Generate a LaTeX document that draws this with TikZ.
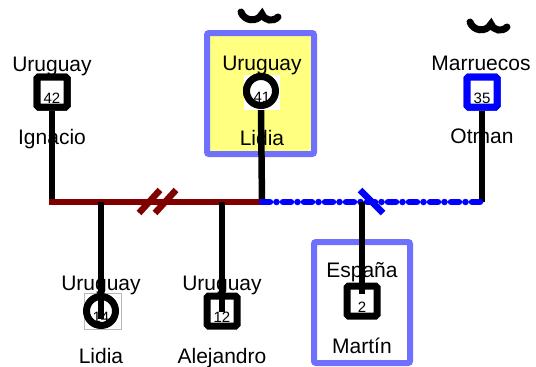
\documentclass[tikz,border=0pt]{standalone}
\usepackage{fontspec}
\setmainfont{Liberation Sans}
\definecolor{boxblue}{RGB}{112,112,255}
\definecolor{yellowfill}{RGB}{255,255,128}
\definecolor{barred}{RGB}{128,0,0}
\definecolor{pureblue}{RGB}{0,0,255}
\definecolor{thingray}{RGB}{185,185,185}
\begin{document}
\begin{tikzpicture}[x=1pt,y=-1pt,
  lbl/.style={font=\fontsize{21}{24}\selectfont, inner sep=0pt, anchor=base},
  num/.style={font=\fontsize{15}{17}\selectfont, inner sep=0pt, anchor=base},
  sqperson/.style={draw, line width=7pt, fill=white, minimum size=30pt, inner sep=0pt, rounded corners=1.5pt},
  circperson/.style={circle, draw, line width=7pt, fill=white, minimum size=29pt, inner sep=0pt},
  link/.style={line width=6.5pt},
  groupbox/.style={draw=boxblue, line width=6pt, rounded corners=2pt},
  squig/.style={line width=7pt, line cap=round},
  slash/.style={line width=6.5pt}
]
\useasboundingbox (0,0) rectangle (536,367);

% group boxes
\draw[groupbox, fill=yellowfill] (207,33) rectangle (314,154);
\draw[groupbox, fill=white] (314,242) rectangle (410,363);

% bar coordinates
\coordinate (barL) at (49,202);
\coordinate (barM) at (262,202);
\coordinate (barR) at (485,202);
\coordinate (jIgn) at (52,202);
\coordinate (jOtm) at (482,202);
\coordinate (jLid) at (101,202);
\coordinate (jAle) at (222,202);
\coordinate (jMar) at (362,202);

% parents' shapes
\node[sqperson] (ign) at (52,92) {};
\node[sqperson, draw=pureblue] (otm) at (482,92) {};
\node[circperson] (lid) at (261,91) {};

% lines from parents to bar
\draw[link] (ign.south) -- (jIgn);
\draw[link] (otm.south) -- (jOtm);
\draw[link] (lid.south) -- (barM);

% redraw parent shapes on top
\node[sqperson] at (ign) {};
\node[sqperson, draw=pureblue] at (otm) {};
\fill[white] (244,75) rectangle (280,110);
\node[circperson] at (lid) {};

% bars
\draw[link, barred] (barL) -- (barM);
\draw[link, pureblue, line cap=round, dash pattern=on 8pt off 6.5pt on 0pt off 6.5pt] (barM) -- (barR);

% children shapes
\draw[thingray, line width=0.6pt] (84,293) rectangle (121,329);
\node[circperson] (lid2) at (101,311) {};
\node[sqperson] (ale) at (222,311) {};
\node[sqperson] (mar) at (362,301) {};

% children links
\coordinate (eLid) at (101,319);
\coordinate (eAle) at (222,312);
\coordinate (eMar) at (362,294);
\draw[link] (jLid) -- (eLid);
\draw[link] (jAle) -- (eAle);
\draw[link] (jMar) -- (eMar);

% slashes
\draw[slash, barred] (139,213) -- (160,190);
\draw[slash, barred] (155,213) -- (176,190);
\draw[slash, pureblue] (360,190) -- (383,213);

% squiggles
\draw[squig] (241,12) .. controls (244,21) and (257,23) .. (262,14) .. controls (265,21) and (273,22) .. (278,17);
\draw[squig] (470,22) .. controls (473,31) and (486,33) .. (491,24) .. controls (494,31) and (502,32) .. (507,27);

% texts
\node[lbl] (tIgnC) at (52,71) {Uruguay};
\node[num] (tIgnN) at (52,103) {42};
\node[lbl] (tIgnL) at (52,144) {Ignacio};

\node[lbl] (tLidC) at (262,70) {Uruguay};
\node[num] (tLidN) at (262,102) {41};
\node[lbl] (tLidL) at (262,145) {Lidia};

\node[lbl] (tOtmC) at (481,70) {Marruecos};
\node[num] (tOtmN) at (482,103) {35};
\node[lbl] (tOtmL) at (482,143) {Otman};

\node[lbl] (tLid2C) at (101,290) {Uruguay};
\node[num] (tLid2N) at (101,322) {14};
\node[lbl] (tLid2L) at (101,363) {Lidia};

\node[lbl] (tAleC) at (222,290) {Uruguay};
\node[num] (tAleN) at (222,322) {12};
\node[lbl] (tAleL) at (222,363) {Alejandro};

\node[lbl] (tMarC) at (362,277) {España};
\node[num] (tMarN) at (362,312) {2};
\node[lbl] (tMarL) at (362,353) {Martín};
\end{tikzpicture}
\end{document}
